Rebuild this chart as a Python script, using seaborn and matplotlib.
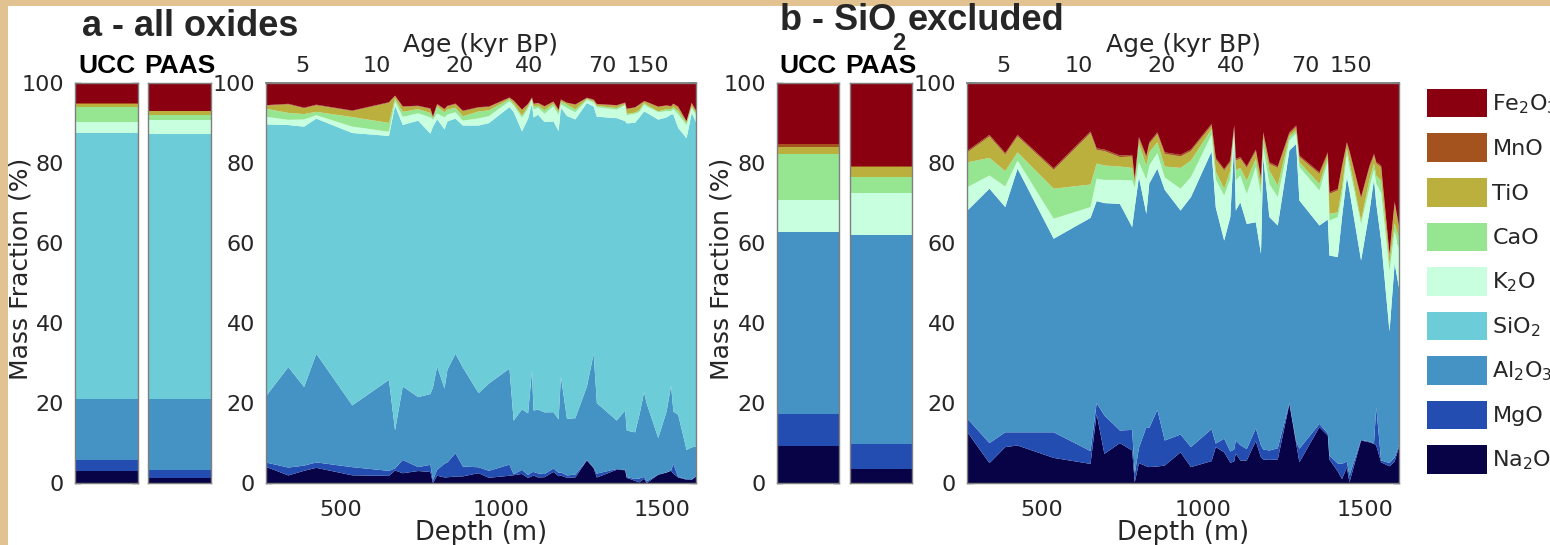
import numpy as np
import pandas as pd
import matplotlib
matplotlib.use("Agg")
import matplotlib.pyplot as plt
from matplotlib.patches import Patch, Rectangle
import seaborn as sns

# oxides from bottom to top of the stack
oxides = ["Na2O", "MgO", "Al2O3", "SiO2", "K2O", "CaO", "TiO", "MnO", "Fe2O3"]
oxide_labels = [r"Na$_2$O", "MgO", r"Al$_2$O$_3$", r"SiO$_2$", r"K$_2$O", "CaO", "TiO", "MnO", r"Fe$_2$O$_3$"]
oxide_colors = ["#070346", "#234db1", "#4592c4", "#6cccd8", "#c8ffdf", "#96e591", "#bbaf3d", "#a4521e", "#8b0011"]

# reference compositions (wt %, all oxides)
ucc = [3.1, 2.65, 15.15, 66.7, 2.7, 3.8, 0.6, 0.2, 5.1]
paas = [1.15, 2.1, 17.65, 66.25, 3.55, 1.35, 0.85, 0.1, 7.0]

# sample depths (m)
depth = [268, 336, 385, 423, 535, 649, 668, 692, 740, 778, 786, 799, 822, 831, 856, 879, 928, 960,
         1024, 1037, 1063, 1082, 1094, 1099, 1113, 1133, 1161, 1177, 1184, 1203, 1229, 1265, 1286,
         1296, 1358, 1384, 1389, 1415, 1428, 1443, 1451, 1487, 1513, 1527, 1534, 1549, 1575, 1591, 1606]

# SiO2 content of the samples (wt % of all oxides)
sio2 = [67.8, 60.5, 65.1, 58.8, 68.1, 61.0, 81.2, 65.4, 69.1, 65.1, 65.2, 61.8, 64.8, 62.1, 58.8, 60.5,
        66.9, 65.1, 65.4, 77.2, 69.5, 73.7, 66.8, 73.3, 73.7, 72.6, 72.7, 72.1, 67.2, 75.7, 74.7, 70.9,
        61.8, 71.6, 75.6, 72.3, 76.8, 77.4, 74.5, 70.2, 72.7, 79.6, 73.5, 67.8, 74.3, 71.7, 77.9, 83.6, 80.8]

# the other oxides, renormalised with SiO2 excluded (wt %)
na2o = [12.8, 5.1, 9.1, 9.5, 6.4, 4.9, 17.4, 7.4, 10.1, 8.25, 0.3, 5.1, 4.3, 4.1, 4.25, 4.5, 7.8, 4.1,
        5.6, 9.1, 7.8, 5.2, 5.5, 7.5, 5.75, 5.75, 10.6, 6.5, 6.0, 5.9, 6.0, 19.9, 10.0, 5.3, 14.1, 12.0,
        6.0, 3.0, 1.1, 4.0, 0.3, 10.75, 10.3, 9.9, 9.5, 5.3, 4.3, 5.5, 9.5]
mgo = [3.4, 5.0, 3.7, 3.3, 6.4, 3.2, 2.7, 9.6, 3.15, 5.15, 2.1, 3.8, 9.8, 9.8, 14.15, 6.25, 4.45, 5.0,
       8.0, 0.9, 3.4, 2.8, 3.0, 3.25, 3.85, 2.85, 3.2, 3.0, 2.5, 2.35, 2.8, 0.2, 0.5, 3.4, 0.8, 0.5,
       1.0, 2.0, 3.8, 1.5, 1.7, 0.15, 0.2, 0.1, 9.6, 0.45, 0.8, 1.0, 0.5]
al2o3 = [52.05, 63.6, 56.3, 65.9, 48.4, 58.3, 50.5, 53.1, 56.65, 50.7, 66.6, 67.7, 53.3, 61.1, 60.3, 62.65,
         56.0, 62.5, 69.4, 59.0, 49.55, 58.6, 76.5, 57.5, 60.7, 56.3, 51.5, 47.9, 73.1, 58.35, 55.7, 63.15,
         74.4, 62.05, 49.6, 53.5, 50.0, 51.6, 61.7, 71.1, 71.25, 44.85, 57.5, 66.0, 50.9, 55.0, 32.9, 48.5, 38.25]
k2o = [5.85, 3.3, 5.15, 2.05, 5.0, 2.7, 5.6, 5.8, 6.0, 11.65, 5.0, 3.7, 8.6, 4.5, 3.9, 3.1, 5.45, 5.0,
       4.2, 7.0, 11.25, 9.6, 3.0, 7.5, 6.7, 7.5, 13.8, 14.6, 2.5, 8.3, 7.1, 2.5, 2.6, 8.35, 8.75, 14.5,
       8.75, 10.0, 5.4, 5.8, 5.75, 9.15, 6.0, 2.5, 5.0, 12.05, 15.0, 8.0, 9.75]
cao = [6.2, 4.4, 3.85, 2.05, 7.5, 5.65, 3.8, 3.6, 3.35, 3.15, 1.2, 4.6, 3.5, 3.3, 2.7, 2.75, 5.2, 4.15,
       1.4, 2.0, 1.7, 2.05, 0.6, 2.65, 1.9, 3.35, 2.1, 2.0, 2.1, 3.35, 2.9, 1.0, 0.7, 1.2, 1.65, 1.0,
       1.65, 1.2, 2.0, 1.3, 1.5, 0.85, 2.0, 1.5, 2.0, 2.95, 2.0, 2.0, 3.0]
tio = [2.5, 5.35, 4.15, 3.95, 4.7, 12.85, 3.4, 3.6, 2.35, 2.85, 0.55, 1.3, 2.0, 2.1, 2.1, 3.15, 2.85, 2.35,
       0.9, 3.0, 4.55, 2.05, 0.5, 2.35, 2.3, 3.15, 1.9, 2.0, 1.2, 1.65, 4.4, 0.65, 0.9, 1.3, 2.5, 0.9,
       5.0, 5.45, 5.0, 1.2, 2.3, 5.45, 3.0, 2.0, 3.0, 3.35, 2.0, 5.0, 2.25]
mno = [0.4, 0.4, 0.4, 0.4, 0.4, 0.4, 0.4, 0.4, 0.4, 0.4, 0.4, 0.4, 0.4, 0.4, 0.4, 0.4, 0.4, 0.4,
       0.4, 0.4, 0.4, 0.4, 0.4, 0.4, 0.4, 0.4, 0.4, 0.4, 0.4, 0.4, 0.4, 0.4, 0.4, 0.4, 0.4, 0.4,
       0.4, 0.4, 0.4, 0.4, 0.4, 0.4, 0.4, 0.4, 0.4, 0.4, 0.4, 0.4, 0.4]
fe2o3 = [16.8, 12.85, 17.35, 12.85, 21.2, 12.0, 16.2, 16.5, 18.0, 17.85, 23.85, 13.4, 18.1, 14.7, 12.2, 17.2,
         17.85, 16.5, 10.1, 18.6, 21.35, 19.3, 10.5, 18.85, 18.4, 20.7, 16.5, 23.6, 12.2, 19.7, 20.7, 12.2,
         10.5, 18.0, 22.2, 17.2, 27.2, 26.35, 20.6, 14.7, 16.8, 28.4, 20.6, 17.6, 19.6, 20.5, 42.6, 29.6, 36.35]

# age axis
age_labels = [5, 10, 20, 40, 70, 150]
age_depth = [382, 613, 870, 1087, 1316, 1457]

# tabelle: senza SiO2 e con tutti gli ossidi
no_si = pd.DataFrame({"Na2O": na2o, "MgO": mgo, "Al2O3": al2o3, "K2O": k2o, "CaO": cao,
                      "TiO": tio, "MnO": mno, "Fe2O3": fe2o3}, index=depth)
all_ox = no_si.mul((100 - np.array(sio2)) / 100, axis=0)
all_ox["SiO2"] = sio2
all_ox = all_ox[oxides]
no_si = no_si[[o for o in oxides if o != "SiO2"]]

ref = pd.DataFrame({"UCC": ucc, "PAAS": paas}, index=oxides)
ref_no_si = ref.drop("SiO2")
ref_no_si = ref_no_si / ref_no_si.sum() * 100

sns.set_theme(style="white")
plt.rcParams["font.family"] = ["DejaVu Sans"]
plt.rcParams["mathtext.fontset"] = "dejavusans"
txt = "#262626"
edge = "#7f7f7f"
pal = dict(zip(oxides, sns.color_palette(oxide_colors)))

W, H = 1550, 545
fig = plt.figure(figsize=(W / 100, H / 100), dpi=100, facecolor="white")
# bordo beige in alto e a sinistra
fig.patches.append(Rectangle((0, 0), 8 / W, 1, transform=fig.transFigure,
                             facecolor="#e2c290", edgecolor="none", zorder=-10))
fig.patches.append(Rectangle((0, 1 - 6 / H), 1, 6 / H, transform=fig.transFigure,
                             facecolor="#e2c290", edgecolor="none", zorder=-10))


def box(x0, x1):
    return [x0 / W, 1 - 483 / H, (x1 - x0) / W, 400 / H]


def style(ax):
    for s in ax.spines.values():
        s.set_color(edge)
        s.set_linewidth(1)
    ax.set_ylim(0, 100)
    ax.set_yticks([0, 20, 40, 60, 80, 100])
    ax.tick_params(axis="both", direction="in", length=4, width=1, color="#404040",
                   labelsize=16, labelcolor=txt)
    ax.tick_params(axis="y", pad=8)


def colonna(ax, comp, name, show_ticks):
    bottom = 0
    for ox in comp.index:
        ax.bar(0, comp[ox], bottom=bottom, width=1, color=pal[ox], linewidth=0)
        bottom += comp[ox]
    ax.set_xlim(-0.5, 0.5)
    style(ax)
    ax.set_xticks([])
    if show_ticks:
        ax.tick_params(axis="y", left=True, right=True)
    else:
        ax.tick_params(axis="y", left=False, right=False, labelleft=False)
    ax.set_title(name, fontsize=19, fontweight="bold", family="Liberation Sans", color="black", pad=7)


def area(ax, df):
    ax.stackplot(df.index, *[df[c].values for c in df.columns],
                 colors=[pal[c] for c in df.columns], linewidth=0)
    ax.set_xlim(depth[0], depth[-1])
    style(ax)
    ax.set_xticks([500, 1000, 1500])
    ax.tick_params(axis="x", pad=12)
    ax.tick_params(axis="y", left=True, right=True)
    ax.set_xlabel("Depth (m)", fontsize=18.5, color=txt, labelpad=0)
    sec = ax.secondary_xaxis("top")
    sec.set_xticks(age_depth, labels=[str(a) for a in age_labels])
    sec.tick_params(direction="in", length=4, color="#404040", labelsize=16, labelcolor=txt, pad=5)
    sec.spines["top"].set_color(edge)
    sec.set_xlabel("Age (kyr BP)", fontsize=18, color=txt, labelpad=3)


# pannello a
colonna(fig.add_axes(box(75, 138)), ref["UCC"], "UCC", True)
colonna(fig.add_axes(box(148, 211)), ref["PAAS"], "PAAS", False)
area(fig.add_axes(box(266, 696)), all_ox)

# pannello b
colonna(fig.add_axes(box(777, 839)), ref_no_si["UCC"], "UCC", True)
colonna(fig.add_axes(box(850, 912)), ref_no_si["PAAS"], "PAAS", False)
area(fig.add_axes(box(967, 1399)), no_si)

for xc in (21, 722):
    fig.text(xc / W, 1 - 269 / H, "Mass Fraction (%)", rotation=90, ha="center", va="center",
             fontsize=18, color=txt)

fig.text(82 / W, 1 - 36 / H, "a - all oxides", fontsize=26, fontweight="bold",
         family="Liberation Sans", va="baseline")
fig.text(780 / W, 1 - 30 / H, "b - SiO", fontsize=26, fontweight="bold",
         family="Liberation Sans", va="baseline")
fig.text(908 / W, 1 - 30 / H, "excluded", fontsize=26, fontweight="bold",
         family="Liberation Sans", va="baseline")
fig.text(899 / W, 1 - 44 / H, "2", fontsize=17, fontweight="bold",
         family="Liberation Sans", ha="center", va="center")

handles = [Patch(facecolor=pal[o], edgecolor="none", label=l)
           for o, l in zip(oxides[::-1], oxide_labels[::-1])]
fig.legend(handles=handles, loc="upper left", bbox_to_anchor=(1418 / W, 1 - 80 / H),
           frameon=False, fontsize=16, handlelength=2.7, handleheight=1.6,
           labelspacing=0.72, handletextpad=0.25, borderaxespad=0, labelcolor=txt)

fig.savefig("out.png", dpi=100, facecolor=fig.get_facecolor())
